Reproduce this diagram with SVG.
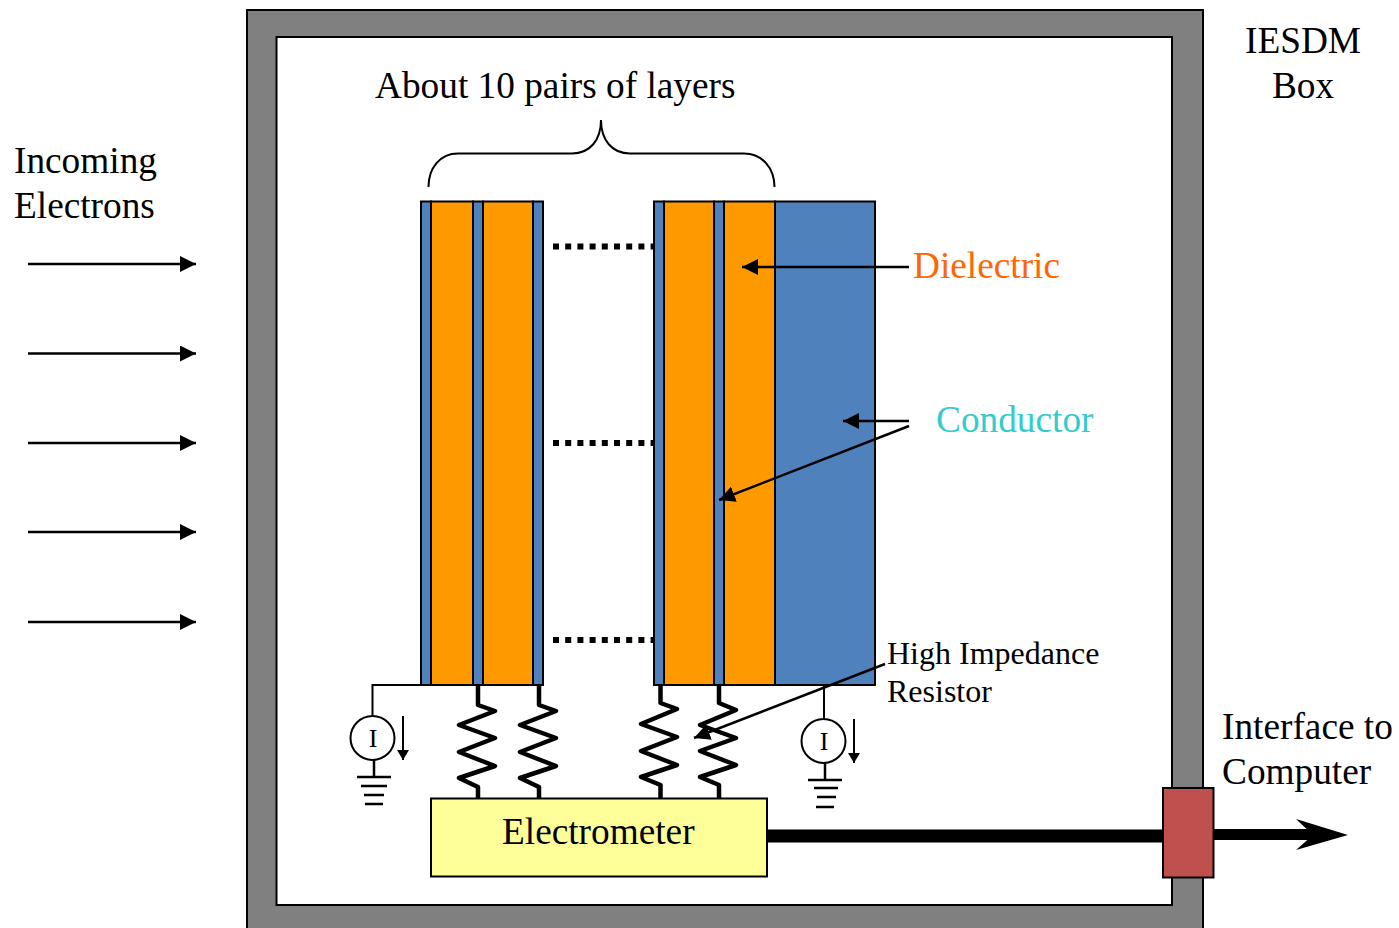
<svg xmlns="http://www.w3.org/2000/svg" width="1399" height="928" viewBox="0 0 1399 928">
<style>
text{font-family:"Liberation Serif","Times New Roman",serif;font-size:37.300px;fill:#000}
.s{font-size:32px}
.b{fill:#4f81bd;stroke:#000;stroke-width:2}
.o{fill:#ff9900;stroke:#000;stroke-width:2}
.l{fill:none;stroke:#000;stroke-width:2.5}
.r{fill:none;stroke:#000;stroke-width:4.500;stroke-linejoin:round}
.d{fill:none;stroke:#000;stroke-width:6;stroke-dasharray:6 6.200}
.g{fill:none;stroke:#000;stroke-width:2.500}
</style>
<defs>
<marker id="a" markerUnits="userSpaceOnUse" markerWidth="18" markerHeight="16" refX="16" refY="8" orient="auto"><path d="M0,0L16,8L0,16Z" fill="#000"/></marker>
<marker id="c" markerUnits="userSpaceOnUse" markerWidth="12" markerHeight="14" refX="10" refY="6" orient="auto"><path d="M0,0L10,6L0,12Z" fill="#000"/></marker>
</defs>
<rect width="1399" height="928" fill="#fff"/>
<g id="box"><path d="M247,10H1203V930H247ZM276.500,37V905H1172V37Z" fill="#808080" fill-rule="evenodd" stroke="#000" stroke-width="2"/></g>
<g id="layers">
<rect class="b" x="421" y="201.500" width="10" height="483.500"/>
<rect class="o" x="431" y="201.500" width="42" height="483.500"/>
<rect class="b" x="473" y="201.500" width="10" height="483.500"/>
<rect class="o" x="483" y="201.500" width="50" height="483.500"/>
<rect class="b" x="533" y="201.500" width="10" height="483.500"/>
<rect class="b" x="654" y="201.500" width="10" height="483.500"/>
<rect class="o" x="664" y="201.500" width="50" height="483.500"/>
<rect class="b" x="714" y="201.500" width="10" height="483.500"/>
<rect class="o" x="724" y="201.500" width="51" height="483.500"/>
<rect class="b" x="775" y="201.500" width="100" height="483.500"/>
</g>
<g id="electrometer"><rect x="431" y="798.500" width="336" height="78" fill="#ffff99" stroke="#000" stroke-width="2"/><text x="502" y="844">Electrometer</text></g>
<g id="connectors">
<path class="l" d="M28,264H196" marker-end="url(#a)"/>
<path class="l" d="M28,353.500H196" marker-end="url(#a)"/>
<path class="l" d="M28,443H196" marker-end="url(#a)"/>
<path class="l" d="M28,532H196" marker-end="url(#a)"/>
<path class="l" d="M28,622H196" marker-end="url(#a)"/>
<path class="d" d="M553,246.500H654M553,443H654M553,640H654"/>
<path fill="none" stroke="#000" stroke-width="2" d="M428.500,187C428.500,168 440,153.500 458,153.500H572C590,153.500 601,140 601,120C601,140 612,153.500 630,153.500H744C762,153.500 774.500,168 774.500,187"/>
<path class="l" d="M909,267H742" marker-end="url(#a)"/>
<path class="l" d="M909,421H843" marker-end="url(#a)"/>
<path class="l" d="M909,426L719,500" marker-end="url(#a)"/>
<path class="l" d="M885,664L694,738" marker-end="url(#a)"/>
<path class="r" d="M478,686V705L495,711L459,725L495,738L459,752L495,766L459,778L478,787V798"/>
<path class="r" d="M539,686V705L556,711L520,725L556,738L520,752L556,766L520,778L539,787V798"/>
<path class="r" d="M660.500,686V703L677,709L641,724L677,737L641,751L677,765L641,777L660.500,785V798"/>
<path class="r" d="M719,686V703L736,710L700,725L736,738L700,751L736,765L700,777L719,785V798"/>
<path fill="none" stroke="#000" stroke-width="2" d="M421,685H372.500V716"/>
<path fill="none" stroke="#000" stroke-width="2" d="M824,685V719"/>
<path fill="none" stroke="#000" stroke-width="2" d="M403,716V760" marker-end="url(#c)"/>
<path fill="none" stroke="#000" stroke-width="2" d="M854,719V763" marker-end="url(#c)"/>
<path d="M767,836H1163" stroke="#000" stroke-width="13" fill="none"/>
<path d="M1214,834.500H1318" stroke="#000" stroke-width="11" fill="none"/>
<path d="M1296,819L1348,835L1296,850L1313,835Z" fill="#000"/>
</g>
<g id="meter-left"><circle cx="372.500" cy="738" r="22" fill="#fff" stroke="#000" stroke-width="2"/><text x="373" y="747" text-anchor="middle" style="font-size:26px">I</text><path class="g" d="M374,760V777M357,777H391M361,786H387M364,795H384M365,804H383"/></g>
<g id="meter-right"><circle cx="823.500" cy="741" r="22" fill="#fff" stroke="#000" stroke-width="2"/><text x="824" y="750" text-anchor="middle" style="font-size:26px">I</text><path class="g" d="M825,763V780M808,780H842M814,788H838M817,797H836M816,807H834"/></g>
<g id="port"><rect x="1163" y="788" width="50.500" height="89.500" fill="#c0504d" stroke="#000" stroke-width="2"/></g>
<g id="labels">
<text x="1303" y="53" text-anchor="middle">IESDM</text>
<text x="1303" y="98" text-anchor="middle">Box</text>
<text x="375" y="98">About 10 pairs of layers</text>
<text x="14" y="173">Incoming</text>
<text x="14" y="218">Electrons</text>
<text x="913" y="278" style="fill:#ff6600">Dielectric</text>
<text x="936" y="432" style="fill:#33cccc">Conductor</text>
<text class="s" x="887" y="664">High Impedance</text>
<text class="s" x="887" y="702">Resistor</text>
<text x="1222" y="739">Interface to</text>
<text x="1222" y="784">Computer</text>
</g>
</svg>
